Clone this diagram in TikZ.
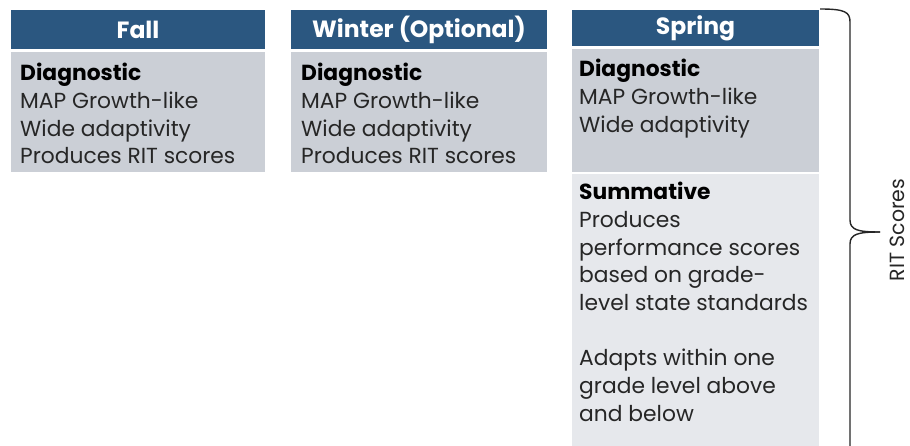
\documentclass[tikz,border=0pt]{standalone}
\usepackage{fontspec}
\setmainfont{Poppins}
\definecolor{hdr}{HTML}{2B5780}
\definecolor{bodygray}{HTML}{CBCFD6}
\definecolor{bodylight}{HTML}{E6E8EC}
\definecolor{txt}{HTML}{262626}
\tikzset{
  hdrbox/.style={fill=hdr, draw=none},
  graybox/.style={fill=bodygray, draw=none},
  lightbox/.style={fill=bodylight, draw=none},
  hdrtext/.style={text=white, font=\fontsize{23.5}{26}\selectfont\bfseries, inner sep=0pt},
  bodytext/.style={text=txt, font=\fontsize{21.8}{27.7}\selectfont, align=left, anchor=north west, inner sep=0pt},
  bracestyle/.style={draw=black!85, line width=1.4pt},
}
\begin{document}
\begin{tikzpicture}[x=1pt,y=-1pt]
\useasboundingbox (0,0) rectangle (910,446);
% Fall
\path[hdrbox] (11,10) rectangle (265,49);
\path[graybox] (11,52) rectangle (265,172);
\node[hdrtext] (fallh) at (138,30) {Fall};
\node[bodytext] (fallb) at (20,63) {\textbf{\color{black}Diagnostic}\\MAP Growth-like\\Wide adaptivity\\Produces RIT scores};
% Winter
\path[hdrbox] (291,10) rectangle (547,49);
\path[graybox] (291,52) rectangle (547,172);
\node[hdrtext] (winh) at (419,30) {Winter (Optional)};
\node[bodytext] (winb) at (301,63) {\textbf{\color{black}Diagnostic}\\MAP Growth-like\\Wide adaptivity\\Produces RIT scores};
% Spring
\path[hdrbox] (572,10) rectangle (819,46);
\path[graybox] (572,49) rectangle (819,172);
\path[lightbox] (572,174) rectangle (819,446);
\node[hdrtext] (sprh) at (695.5,28.5) {Spring};
\node[bodytext] (sprb) at (579,59) {\textbf{\color{black}Diagnostic}\\MAP Growth-like\\Wide adaptivity};
\node[bodytext] (sumb) at (579,182) {\textbf{\color{black}Summative}\\Produces\\performance scores\\based on grade-\\level state standards\\[27.7pt]Adapts within one\\grade level above\\and below};
% Brace
\coordinate (btop) at (820,9);
\coordinate (btip) at (880,232);
\coordinate (bbot) at (850,446);
\draw[bracestyle] (btop) .. controls (845,9) and (850,12) .. (850,22)
  -- (850,220) .. controls (850,230) and (858,232) .. (btip);
\draw[bracestyle] (btip) .. controls (858,232) and (850,234) .. (850,244) -- (bbot);
\node[rotate=90, text=txt, font=\fontsize{20.5}{22}\selectfont, inner sep=0pt] (rit) at (897,230) {RIT Scores};
\end{tikzpicture}
\end{document}
